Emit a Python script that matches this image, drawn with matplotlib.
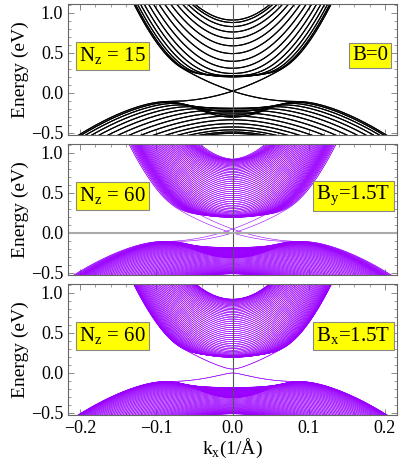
import numpy as np
import matplotlib
matplotlib.use("Agg")
import matplotlib.pyplot as plt
from matplotlib.ticker import MultipleLocator

plt.rcParams["font.family"] = ["Liberation Serif", "DejaVu Serif"]
plt.rcParams["mathtext.fontset"] = "custom"
plt.rcParams["mathtext.rm"] = "Liberation Serif"

# film model parameters (eV, eV*A, eV*A^2), tuned to the band edges in the picture
C, M0 = -0.045, -0.265          # onsite energy / inverted mass gap
d1, b1, a1 = 0.0625, 0.245, 0.23  # hopping between quintuple layers
D2, B2, A2 = 30.0, 45.0, 3.2      # in-plane terms
layer_c = 12.0                     # effective layer spacing (A)
flux_per_T = 1.519e-5              # e/hbar in 1/(A^2 T)

# panels
n_layers = [15, 60, 60]
field_y = [0.0, 1.5, 0.0]
field_x = [0.0, 0.0, 1.5]
left_labels = [r"N$_\mathregular{z}$ = 15", r"N$_\mathregular{z}$ = 60", r"N$_\mathregular{z}$ = 60"]
right_labels = ["B=0", r"B$_\mathregular{y}$=1.5T", r"B$_\mathregular{x}$=1.5T"]
right_pos = [0.918, 0.867, 0.867]
line_colors = ["black", "#9b00ff", "#9b00ff"]
line_widths = [0.8, 0.4, 0.4]

kx = np.linspace(-0.22, 0.22, 441)

s0 = np.eye(2); sx = np.array([[0, 1], [1, 0]]); sy = np.array([[0, -1j], [1j, 0]]); sz = np.diag([1, -1])
I4 = np.eye(4)
G5 = np.kron(s0, sz)
G1 = np.kron(sx, sx)
G2 = np.kron(sy, sx)
G3 = np.kron(sz, sx)


def film_bands(n, by, bx):
    z = (np.arange(n) - (n - 1) / 2) * layer_c
    T = -d1 * I4 - b1 * G5 - 0.5j * a1 * G3
    H0 = np.kron(np.eye(n), (C + 2 * d1) * I4 + (M0 + 2 * b1) * G5).astype(complex)
    H0 += np.kron(np.eye(n, k=1), T) + np.kron(np.eye(n, k=-1), T.conj().T)
    out = np.empty((len(kx), 4 * n))
    for i, k in enumerate(kx):
        kxj = k + flux_per_T * by * z
        kyj = -flux_per_T * bx * z
        k2 = kxj**2 + kyj**2
        H = H0 + np.kron(np.diag(k2), D2 * I4 + B2 * G5) \
            + A2 * (np.kron(np.diag(kxj), G1) + np.kron(np.diag(kyj), G2))
        out[i] = np.linalg.eigvalsh(H)
    return out


fig = plt.figure(figsize=(3.99, 4.59), dpi=100)
bottoms = [0.7059, 0.4009, 0.0959]
box = dict(boxstyle="square,pad=0.15", fc="#ffff00", ec="#888888", lw=0.8)

for p in range(3):
    ax = fig.add_axes([0.1704, bottoms[p], 0.825, 0.2854])
    E = film_bands(n_layers[p], field_y[p], field_x[p])
    ax.plot(kx, E, color=line_colors[p], lw=line_widths[p])
    ax.axvline(0, color="#555555", lw=0.8)
    if p == 1:
        ax.axhline(0, color="#aaaaaa", lw=1.5)
    ax.set_xlim(-0.216, 0.216)
    ax.set_ylim(-0.525, 1.11)
    ax.xaxis.set_major_locator(MultipleLocator(0.1))
    ax.xaxis.set_minor_locator(MultipleLocator(0.02))
    ax.yaxis.set_major_locator(MultipleLocator(0.5))
    ax.yaxis.set_minor_locator(MultipleLocator(0.1))
    ax.yaxis.set_major_formatter(lambda v, pos: f"{v:.1f}".replace("-", "\u2212"))
    ax.tick_params(which="both", direction="in", top=True, right=True, color="#777777", labelsize=13)
    ax.tick_params(which="major", length=4, width=0.6)
    ax.tick_params(which="minor", length=2, width=0.5)
    for sp in ax.spines.values():
        sp.set_color("#666666")
        sp.set_linewidth(0.8)
    ax.set_ylabel("Energy (eV)", fontsize=14, labelpad=1)
    if p < 2:
        ax.tick_params(labelbottom=False)
    else:
        ax.xaxis.set_major_formatter(lambda v, pos: f"{v:.1f}".replace("-", "\u2212"))
        ax.set_xlabel(r"k$_\mathregular{x}$(1/Å)", fontsize=14, labelpad=0)
    ax.text(0.136, 0.605, left_labels[p], transform=ax.transAxes, ha="center", va="center",
            fontsize=15, bbox=box, zorder=5)
    ax.text(right_pos[p], 0.605, right_labels[p], transform=ax.transAxes, ha="center", va="center",
            fontsize=15, bbox=box, zorder=5)

fig.savefig("out.png", dpi=100)
